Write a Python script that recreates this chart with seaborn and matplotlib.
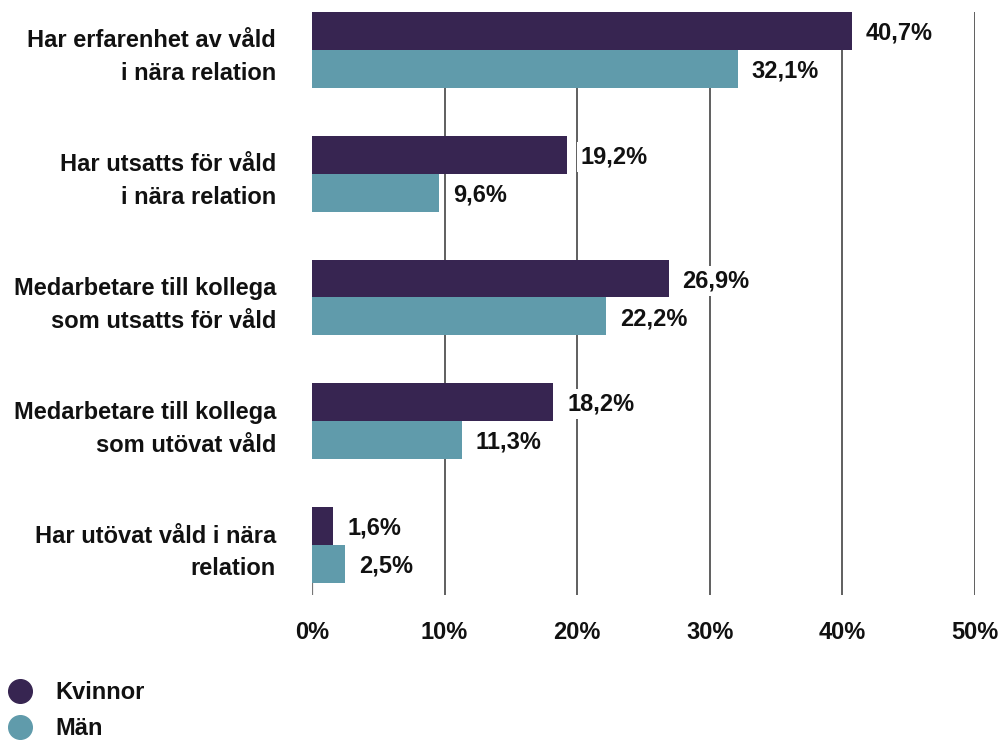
import matplotlib
matplotlib.use("Agg")
import matplotlib.pyplot as plt
from matplotlib.lines import Line2D
import seaborn as sns
import pandas as pd

categories = [
    "Har erfarenhet av våld\ni nära relation",
    "Har utsatts för våld\ni nära relation",
    "Medarbetare till kollega\nsom utsatts för våld",
    "Medarbetare till kollega\nsom utövat våld",
    "Har utövat våld i nära\nrelation",
]
series_names = ["Kvinnor", "Män"]
kvinnor = [40.7, 19.2, 26.9, 18.2, 1.6]
man = [32.1, 9.6, 22.2, 11.3, 2.5]
xticks = [0, 10, 20, 30, 40, 50]
xtick_labels = ["0%", "10%", "20%", "30%", "40%", "50%"]
colors = ["#372551", "#609bab"]

sns.set_theme(style="white")
plt.rcParams["font.family"] = ["Liberation Sans", "DejaVu Sans"]

df = pd.DataFrame({
    "kategori": categories * 2,
    "andel": kvinnor + man,
    "kön": [series_names[0]] * len(categories) + [series_names[1]] * len(categories),
})

fig = plt.figure(figsize=(10.03, 7.44), dpi=100)
ax = fig.add_axes([312 / 1003, 1 - 595 / 744, (975 - 312) / 1003, (595 - 12) / 744])

sns.barplot(data=df, y="kategori", x="andel", hue="kön", orient="h",
            palette=colors, width=0.614, gap=0, dodge=True, saturation=1,
            legend=False, ax=ax, errorbar=None, linewidth=0)

ax.set_xlim(0, 50)
ax.set_ylim(4.404, -0.307)
ax.set_xlabel("")
ax.set_ylabel("")
for s in ax.spines.values():
    s.set_visible(False)

ax.set_xticks(xticks)
ax.set_xticklabels(xtick_labels, fontsize=17, fontweight="bold", color="#111111")
ax.tick_params(axis="x", length=0, pad=19)
ax.set_yticks(range(len(categories)))
ax.set_yticklabels(categories, fontsize=17, fontweight="bold", color="#111111")
ax.tick_params(axis="y", length=0, pad=26)
for t in ax.get_yticklabels():
    t.set_multialignment("right")
    t.set_linespacing(1.55)

ax.xaxis.grid(True, color="#444444", linewidth=1.2)
ax.yaxis.grid(False)
ax.set_axisbelow(True)
ax.xaxis.get_gridlines()[0].set_visible(False)
last_bar = ax.containers[1][-1]
ax.vlines(0, last_bar.get_y() + last_bar.get_height(), 4.404, color="#777777",
          linewidth=1.6, zorder=0.5)

for container, vals in zip(ax.containers, [kvinnor, man]):
    for bar, v in zip(container, vals):
        y = bar.get_y() + bar.get_height() / 2
        ax.annotate(f"{v:.1f}%".replace(".", ","), xy=(bar.get_width(), y),
                    xytext=(10, -1.5), textcoords="offset points",
                    ha="left", va="center", fontsize=17, fontweight="bold",
                    color="#111111",
                    bbox=dict(boxstyle="square,pad=0.15", fc="white", ec="none"),
                    zorder=5)

handles = [Line2D([], [], marker="o", ls="", color=c, markersize=17) for c in colors]
fig.legend(handles, series_names, loc="lower left", bbox_to_anchor=(8 / 1003, 4 / 744),
           frameon=False, prop={"size": 17, "weight": "bold"}, handlelength=1,
           handletextpad=1.0, labelspacing=0.55, borderpad=0, borderaxespad=0,
           labelcolor="#111111")

fig.savefig("out.png", dpi=100)
